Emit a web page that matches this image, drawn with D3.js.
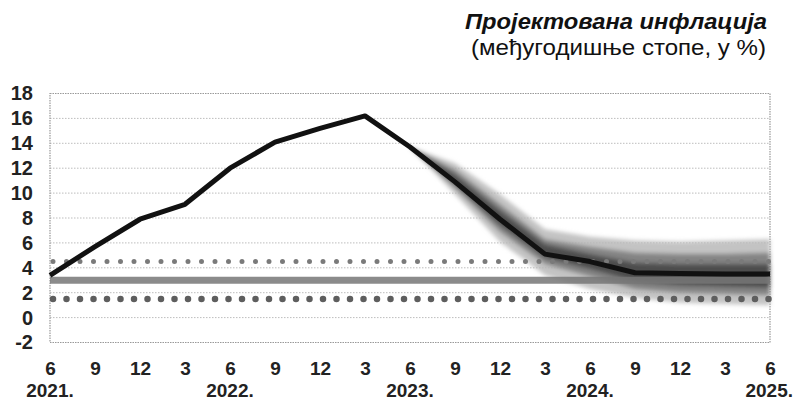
<!DOCTYPE html>
<html>
<head>
<meta charset="utf-8">
<script src="https://cdn.jsdelivr.net/npm/d3@7"></script>
<style>
  body { margin: 0; background: #fff; }
  text { font-family: "Liberation Sans", Arial, sans-serif; }
</style>
</head>
<body>
<svg id="chart" width="797" height="402"></svg>
<script>
// quarter labels (month) from 6/2021 to 6/2025
const tickLabels = ["6", "9", "12", "3", "6", "9", "12", "3", "6", "9", "12", "3", "6", "9", "12", "3", "6"];
const yearLabels = [{q: 0, label: "2021."}, {q: 4, label: "2022."}, {q: 8, label: "2023."}, {q: 12, label: "2024."}, {q: 16, label: "2025."}];
const yTicks = [18, 16, 14, 12, 10, 8, 6, 4, 2, 0, -2];

// inflation, y-o-y %, quarterly points (index = quarter from 6/2021)
const inflation = [3.4, 5.7, 7.9, 9.1, 12.0, 14.1, 15.2, 16.2, 13.7, 10.9, 7.9, 5.1, 4.5, 3.6, 3.55, 3.5, 3.5];

// projection fan, starts at quarter 8 (6/2023)
const fanStart = 8;
const fanOuterLow  = [13.7, 9.9, 6.1, 3.4, 2.3, 1.6, 1.2, 1.1, 1.0];
const fanOuterHigh = [13.7, 12.4, 9.9, 7.1, 6.5, 6.2, 6.1, 6.2, 6.3];
const fanInnerLow  = [13.7, 10.4, 6.9, 4.3, 3.3, 2.3, 2.0, 1.9, 1.8];
const fanInnerHigh = [13.7, 11.9, 9.1, 6.3, 5.7, 5.2, 5.1, 5.1, 5.2];
const fanCoreLow   = [13.7, 10.7, 7.4, 4.8, 3.9, 2.9, 2.6, 2.5, 2.4];
const fanCoreHigh  = [13.7, 11.5, 8.6, 5.9, 5.1, 4.4, 4.3, 4.3, 4.3];

// inflation target and tolerance band
const target = 3;
const bandLow = 1.5;
const bandHigh = 4.5;

const svg = d3.select("#chart"),
      width = +svg.attr("width"),
      height = +svg.attr("height"),
      margin = {top: 93.5, right: 27, bottom: 59.5, left: 50};

const x = d3.scaleLinear().domain([0, 16]).range([margin.left, width - margin.right]);
const y = d3.scaleLinear().domain([-2, 18]).range([height - margin.bottom, margin.top]);

// title
svg.append("text")
    .attr("x", 767).attr("y", 28.5)
    .attr("text-anchor", "end")
    .attr("font-size", 22).attr("font-weight", "bold").attr("font-style", "italic")
    .attr("textLength", 302).attr("lengthAdjust", "spacingAndGlyphs")
    .attr("fill", "#111")
    .text("Пројектована инфлација");
svg.append("text")
    .attr("x", 766).attr("y", 55)
    .attr("text-anchor", "end")
    .attr("font-size", 22)
    .attr("textLength", 295).attr("lengthAdjust", "spacingAndGlyphs")
    .attr("fill", "#111")
    .text("(међугодишње стопе, у %)");

// grid lines
svg.append("g")
    .selectAll("line")
    .data(yTicks.filter(d => d > -2 && d < 18))
    .join("line")
    .attr("x1", x(0)).attr("x2", x(16))
    .attr("y1", d => y(d)).attr("y2", d => y(d))
    .attr("stroke", "#bdbdbd")
    .attr("stroke-width", 1)
    .attr("stroke-dasharray", "1.5,1.5");

// plot border
svg.append("rect")
    .attr("x", x(0)).attr("y", y(18))
    .attr("width", x(16) - x(0)).attr("height", y(-2) - y(18))
    .attr("fill", "none")
    .attr("stroke", "#999")
    .attr("stroke-width", 1.2)
    .attr("stroke-dasharray", "1.5,1");

// y axis labels
const yAxis = d3.axisLeft(y).tickValues(yTicks).tickSize(0).tickPadding(17).tickFormat(d => d);
svg.append("g")
    .attr("transform", `translate(${margin.left},0)`)
    .call(yAxis)
    .call(g => g.select(".domain").remove())
    .call(g => g.selectAll("text")
        .attr("font-size", 20).attr("font-weight", "bold").attr("fill", "#222")
        .attr("font-family", "Liberation Sans, Arial, sans-serif"));

// x axis labels
const xAxis = d3.axisBottom(x).tickValues(d3.range(17)).tickSize(0).tickPadding(19).tickFormat(i => tickLabels[i]);
svg.append("g")
    .attr("transform", `translate(0,${height - margin.bottom})`)
    .call(xAxis)
    .call(g => g.select(".domain").remove())
    .call(g => g.selectAll("text")
        .attr("font-size", 19).attr("font-weight", "bold").attr("fill", "#222")
        .attr("font-family", "Liberation Sans, Arial, sans-serif"));

svg.append("g")
    .selectAll("text")
    .data(yearLabels)
    .join("text")
    .attr("x", d => d.q === 16 ? width - 4 : x(d.q))
    .attr("y", 397)
    .attr("text-anchor", d => d.q === 16 ? "end" : "middle")
    .attr("font-size", 19).attr("font-weight", "bold").attr("fill", "#222")
    .text(d => d.label);

// fan chart
const defs = svg.append("defs");
defs.append("filter").attr("id", "soft")
    .attr("x", "-10%").attr("y", "-20%").attr("width", "120%").attr("height", "140%")
    .append("feGaussianBlur").attr("stdDeviation", 2);

function fanArea(lo, hi) {
    return d3.area()
        .x((d, i) => x(fanStart + i))
        .y0((d, i) => y(lo[i]))
        .y1((d, i) => y(hi[i]))(lo);
}

const fan = svg.append("g").attr("filter", "url(#soft)");
fan.append("path").attr("d", fanArea(fanOuterLow, fanOuterHigh)).attr("fill", "#b8b8b8").attr("opacity", 0.85);
fan.append("path").attr("d", fanArea(fanInnerLow, fanInnerHigh)).attr("fill", "#7a7a7a").attr("opacity", 0.85);
fan.append("path").attr("d", fanArea(fanCoreLow, fanCoreHigh)).attr("fill", "#444").attr("opacity", 0.85);

// target and tolerance band
svg.append("line")
    .attr("x1", x(0)).attr("x2", x(16))
    .attr("y1", y(target)).attr("y2", y(target))
    .attr("stroke", "#777").attr("stroke-opacity", 0.85)
    .attr("stroke-width", 7);

svg.append("line")
    .attr("x1", x(0) + 3).attr("x2", x(16))
    .attr("y1", y(bandHigh)).attr("y2", y(bandHigh))
    .attr("stroke", "#7a7a7a")
    .attr("stroke-width", 5)
    .attr("stroke-linecap", "round")
    .attr("stroke-dasharray", "0,13.5");

svg.append("line")
    .attr("x1", x(0) + 3).attr("x2", x(16))
    .attr("y1", y(bandLow)).attr("y2", y(bandLow))
    .attr("stroke", "#5e5e5e")
    .attr("stroke-width", 6.5)
    .attr("stroke-linecap", "round")
    .attr("stroke-dasharray", "0,13.5");

// inflation line
const line = d3.line()
    .x((d, i) => x(i))
    .y(d => y(d));

svg.append("path")
    .datum(inflation)
    .attr("d", line)
    .attr("fill", "none")
    .attr("stroke", "#111")
    .attr("stroke-width", 5)
    .attr("stroke-linejoin", "round");
</script>
</body>
</html>
